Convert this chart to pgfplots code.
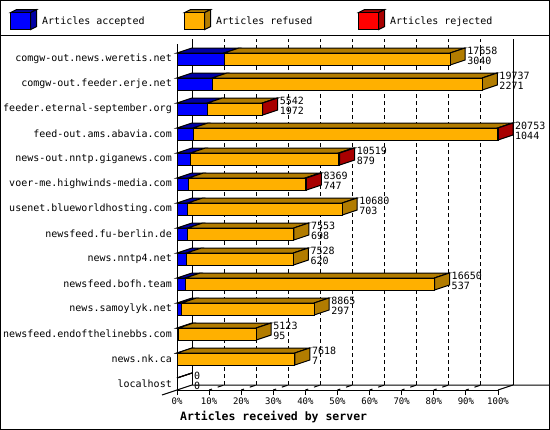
\documentclass[border=0pt]{standalone}
\usepackage{pgfplots}
\pgfplotsset{compat=1.18}
\usepackage{pgfplotstable}
\usepackage{fontspec}
\setmainfont{DejaVu Sans Mono}

\definecolor{accF}{RGB}{0,0,255}
\definecolor{accD}{RGB}{0,0,165}
\definecolor{refF}{RGB}{255,176,0}
\definecolor{refD}{RGB}{178,124,0}
\definecolor{rejF}{RGB}{255,0,0}
\definecolor{rejD}{RGB}{168,0,0}

\pgfdeclareplotmark{empty}{}

% articles per peer: accepted, refused, rejected, total received
\pgfplotstableread{
row acc ref rej total
13 3040 14618 0 17658
12 2271 17466 0 19737
11 1972 3550 20 5542
10 1044 19684 25 20753
9 879 9580 60 10519
8 747 7542 80 8369
7 703 9977 0 10680
6 698 6855 0 7553
5 620 6908 0 7528
4 537 16113 0 16650
3 297 8568 0 8865
2 95 5028 0 5123
1 7 7611 0 7618
0 0 0 0 0
}\feeds

% small 3d box for the legend
\newcommand\cube[2]{%
  \filldraw[fill=#2,draw=black,line width=1bp] (0bp,8.5bp) -- (6bp,11.5bp) -- (26bp,11.5bp) -- (20bp,8.5bp) -- cycle;
  \filldraw[fill=#2,draw=black,line width=1bp] (20bp,-8.5bp) -- (26bp,-5.5bp) -- (26bp,11.5bp) -- (20bp,8.5bp) -- cycle;
  \filldraw[fill=#1,draw=black,line width=1bp] (0bp,-8.5bp) rectangle (20bp,8.5bp);
}

\pgfplotsset{
  frame3d/.style={
    scale only axis, width=321bp, height=346bp,
    xmin=0, xmax=20753, ymin=-0.24, ymax=13.6,
    scaled x ticks=false,
    clip=false, at={(177bp,-390bp)}, anchor=south west,
  },
  % top face of one bar segment, drawn at the segment's end
  topface/.style 2 args={
    scatter, only marks, mark=empty,
    visualization depends on={\thisrow{#1}*321/20753 \as \segw},
    scatter/@pre marker code/.code={%
      \filldraw[fill=#2,draw=black,line width=1bp]
        (-\segw bp,6bp) -- (0bp,6bp) -- (15bp,11bp) -- ++(-\segw bp,0bp) -- cycle;},
    scatter/@post marker code/.code={},
  },
  % right face at the end of a bar
  sideface/.style={
    scatter, only marks, mark=empty,
    scatter/@pre marker code/.code={%
      \filldraw[fill=#1,draw=black,line width=1bp]
        (0bp,-6bp) -- (15bp,-1bp) -- (15bp,11bp) -- (0bp,6bp) -- cycle;},
    scatter/@post marker code/.code={},
  },
}

\begin{document}
\begin{tikzpicture}
\useasboundingbox (0,0) rectangle (550bp,-430bp);

% back plane, grid, top and side faces, value labels
\begin{axis}[frame3d,
  axis line style={draw=none}, major tick length=0pt,
  xtick={2075.3,4150.6,6225.9,8301.2,10376.5,12451.8,14527.1,16602.4,18677.7},
  xticklabels={,,,,,,,,},
  ytick=\empty,
  xmajorgrids,
  major grid style={black, line width=1bp, dash pattern=on 4bp off 3bp, xshift=15bp, yshift=5bp},
  extra x ticks={0,20753},
  extra x tick labels={,},
  extra x tick style={grid=major, major grid style={solid}},
]
\addplot[topface={acc}{accD}] table[x=acc, y=row]{\feeds};
\addplot[topface={ref}{refD}] table[x expr=\thisrow{acc}+\thisrow{ref}, y=row]{\feeds};
\addplot[topface={rej}{rejD}] table[x=total, y=row]{\feeds};
\addplot[sideface=refD, restrict expr to domain={\thisrow{rej}+1000*(\thisrow{total}<1)}{-1:0.5}]
  table[x=total, y=row]{\feeds};
\addplot[sideface=rejD, restrict expr to domain={\thisrow{rej}}{1:1000}]
  table[x=total, y=row]{\feeds};
\addplot[only marks, mark=empty, point meta=explicit symbolic,
  visualization depends on={\thisrow{acc} \as \acclab},
  nodes near coords={\pgfplotspointmeta\\\pgfmathprintnumber[fixed, precision=0, 1000 sep={}, assume math mode=true]{\acclab}},
  nodes near coords style={anchor=west, align=left, inner sep=0pt,
    xshift=17bp, yshift=3.5bp, font=\fontsize{10bp}{10bp}\selectfont}]
  table[x=total, y=row, meta=total]{\feeds};

\draw[line width=1bp] (rel axis cs:0,0) ++(-15bp,-5bp) -- ++(30bp,10bp) -- ++(358bp,0bp);
\draw[line width=1bp] (rel axis cs:1,0) -- ++(15bp,5bp);
\pgfplotsinvokeforeach{0.1,0.2,0.3,0.4,0.5,0.6,0.7,0.8,0.9}{
  \draw[line width=1bp, dash pattern=on 3bp off 6bp on 6bp] (rel axis cs:#1,0) -- ++(15bp,5bp);
}
\end{axis}

% front faces, axes and legend
\begin{axis}[frame3d,
  xbar stacked, bar width=12bp,
  axis x line=bottom, axis y line=left,
  axis line style={-, line width=1bp},
  xtick={0,2075.3,4150.6,6225.9,8301.2,10376.5,12451.8,14527.1,16602.4,18677.7,20753},
  xticklabels={0\%,10\%,20\%,30\%,40\%,50\%,60\%,70\%,80\%,90\%,100\%},
  ytick={0,...,13},
  yticklabels={localhost, news.nk.ca, newsfeed.endofthelinebbs.com, news.samoylyk.net,
    newsfeed.bofh.team, news.nntp4.net, newsfeed.fu-berlin.de, usenet.blueworldhosting.com,
    voer-me.highwinds-media.com, news-out.nntp.giganews.com, feed-out.ams.abavia.com,
    feeder.eternal-september.org, comgw-out.feeder.erje.net, comgw-out.news.weretis.net},
  tick align=outside, major tick length=5bp,
  xtick style={black, line width=1bp}, ytick style={draw=none},
  x tick label style={font=\fontsize{9bp}{9bp}\selectfont, inner sep=0pt, anchor=north, yshift=-3bp},
  y tick label style={font=\fontsize{10bp}{10bp}\selectfont, inner sep=0pt, anchor=east, xshift=0bp},
  xlabel={Articles received by server},
  xlabel style={at={(axis description cs:0.0093,-0.0795)}, anchor=west, inner sep=0pt,
    font=\bfseries\fontsize{11.5bp}{12bp}\selectfont},
  legend columns=3,
  legend cell align=left,
  legend style={at={(axis description cs:-0.5202,1.0708)}, anchor=west,
    draw=none, fill=none, inner sep=0pt,
    font=\fontsize{10bp}{10bp}\selectfont,
    /tikz/every odd column/.append style={column sep=3bp}},
]
\addplot[fill=accF, draw=black, line width=1bp, legend image code/.code={\cube{accF}{accD}}]
  table[x=acc, y=row]{\feeds};
\addlegendentry{\makebox[140bp][l]{Articles accepted}}
\addplot[fill=refF, draw=black, line width=1bp, legend image code/.code={\cube{refF}{refD}}]
  table[x=ref, y=row]{\feeds};
\addlegendentry{\makebox[140bp][l]{Articles refused}}
\addplot[fill=rejF, draw=black, line width=1bp, legend image code/.code={\cube{rejF}{rejD}}]
  table[x=rej, y=row]{\feeds};
\addlegendentry{\makebox[140bp][l]{Articles rejected}}
\end{axis}

\draw[line width=1bp] (0.5bp,-0.5bp) rectangle (549.5bp,-429.5bp);
\draw[line width=1bp] (0bp,-35.5bp) -- (550bp,-35.5bp);
\end{tikzpicture}
\end{document}
